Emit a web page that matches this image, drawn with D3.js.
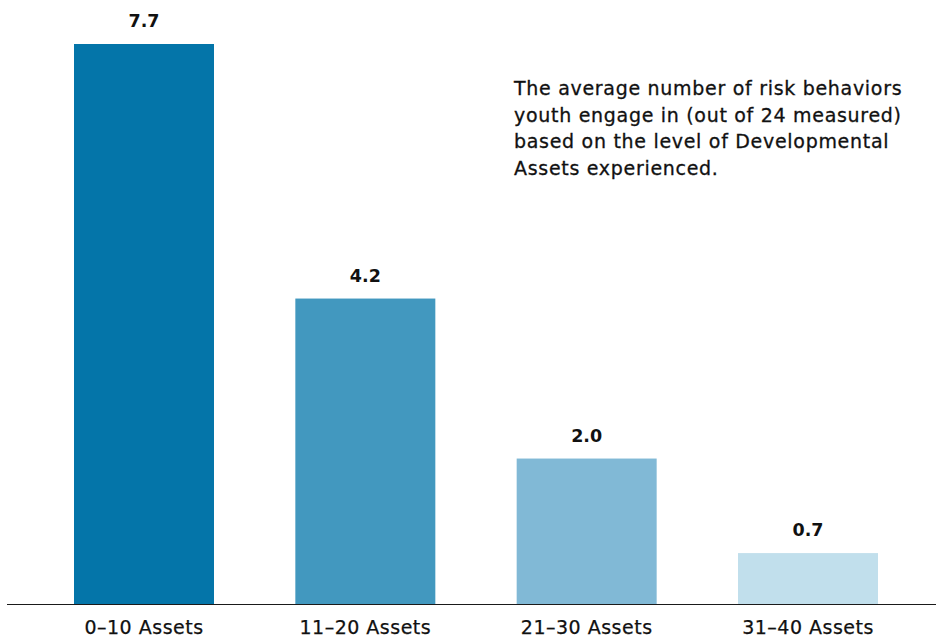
<!DOCTYPE html>
<html><head><meta charset="utf-8">
<script src="https://cdn.jsdelivr.net/npm/d3@7"></script>
<style>
html,body{margin:0;padding:0;background:#fff;}
svg{display:block;font-family:"DejaVu Sans",sans-serif;}
</style></head>
<body>
<svg id="chart" width="936" height="637"></svg>
<script>
const categories = ["0–10 Assets","11–20 Assets","21–30 Assets","31–40 Assets"];
const values = [7.7, 4.2, 2.0, 0.7];
const valueLabels = ["7.7","4.2","2.0","0.7"];
const colors = ["#0475a9","#4298bf","#81b9d6","#c1dfec"];
const noteLines = ["The average number of risk behaviors","youth engage in (out of 24 measured)","based on the level of Developmental","Assets experienced."];

const svg = d3.select("#chart");
const baseY = 604;
const x = d3.scaleBand().domain(categories).range([74, 878]).paddingInner(0.3675).paddingOuter(0);
const y = d3.scaleLinear().domain([0, 7.7]).range([baseY, 44]);

svg.selectAll("rect.bar").data(values).enter().append("rect")
  .attr("class","bar")
  .attr("x",(d,i)=>x(categories[i]))
  .attr("width",x.bandwidth())
  .attr("y",d=>y(d))
  .attr("height",d=>y(0)-y(d))
  .attr("fill",(d,i)=>colors[i]);

svg.selectAll("text.val").data(values).enter().append("text")
  .attr("class","val")
  .attr("x",(d,i)=>x(categories[i])+x.bandwidth()/2)
  .attr("y",d=>y(d)-17)
  .attr("text-anchor","middle")
  .attr("font-size",17.5)
  .attr("font-weight",700)
  .attr("fill","#111")
  .text((d,i)=>valueLabels[i]);

svg.append("line").attr("x1",7).attr("x2",936).attr("y1",baseY+0.5).attr("y2",baseY+0.5)
  .attr("stroke","#1a1a1a").attr("stroke-width",1.2);

const axis = svg.append("g").attr("transform",`translate(0,${baseY})`)
  .call(d3.axisBottom(x).tickSize(0).tickPadding(0));
axis.select(".domain").remove();
axis.selectAll("text").attr("font-size",19).attr("fill","#111")
  .attr("font-family","DejaVu Sans, sans-serif")
  .attr("letter-spacing",0.5)
  .attr("stroke","#111").attr("stroke-width",0.25)
  .attr("dy",null).attr("y",30);

const note = svg.append("text").attr("x",514).attr("y",95)
  .attr("font-size",19).attr("fill","#111")
  .attr("letter-spacing",0.7)
  .attr("stroke","#111").attr("stroke-width",0.3);
noteLines.forEach((t,i)=>{
  note.append("tspan").attr("x",514).attr("dy", i===0?0:26.7).text(t);
});
</script>
</body></html>
